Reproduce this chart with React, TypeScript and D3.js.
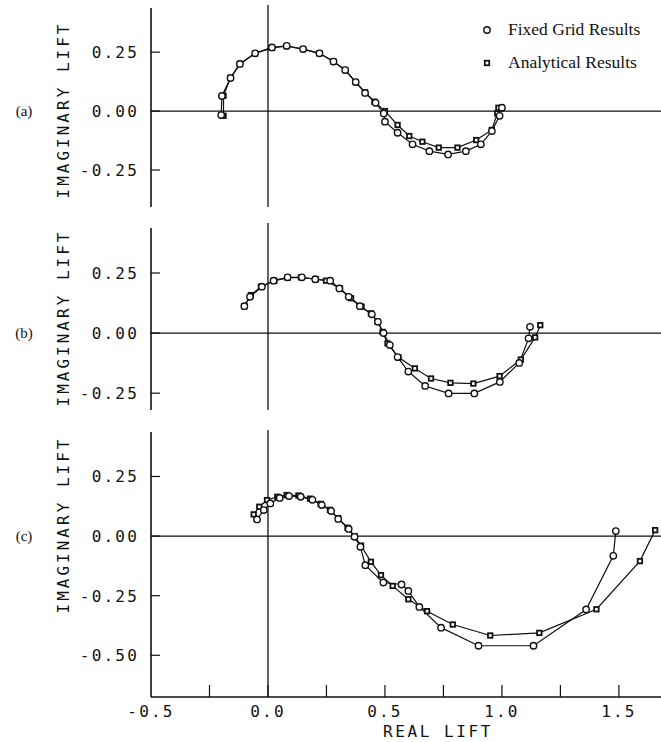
import React from "react";
import * as d3 from "d3";

// Real / imaginary lift pairs
const fixedA: [number, number][] = [
  [-0.2, -0.017], [-0.197, 0.064], [-0.16, 0.14], [-0.12, 0.2], [-0.055, 0.245],
  [0.017, 0.27], [0.08, 0.277], [0.15, 0.263], [0.22, 0.245], [0.28, 0.21],
  [0.33, 0.174], [0.375, 0.123], [0.415, 0.077], [0.46, 0.035], [0.495, -0.01],
  [0.5, -0.045], [0.554, -0.092], [0.618, -0.141], [0.69, -0.17], [0.77, -0.184],
  [0.846, -0.17], [0.91, -0.141], [0.957, -0.085], [0.99, -0.02], [1.0, 0.014],
];
const analyticA: [number, number][] = [
  [-0.19, -0.02], [-0.19, 0.065], [-0.16, 0.142], [-0.12, 0.2], [-0.055, 0.245],
  [0.017, 0.268], [0.08, 0.275], [0.15, 0.263], [0.22, 0.245], [0.28, 0.21],
  [0.33, 0.174], [0.375, 0.123], [0.415, 0.08], [0.455, 0.04], [0.5, 0.0],
  [0.554, -0.059], [0.604, -0.106], [0.66, -0.13], [0.73, -0.155], [0.81, -0.155],
  [0.89, -0.123], [0.957, -0.08], [0.98, -0.01], [0.985, 0.014],
];

const fixedB: [number, number][] = [
  [-0.101, 0.112], [-0.077, 0.151], [-0.026, 0.193], [0.024, 0.218], [0.084, 0.232],
  [0.145, 0.232], [0.202, 0.224], [0.266, 0.218], [0.305, 0.186], [0.345, 0.151],
  [0.393, 0.112], [0.444, 0.078], [0.47, 0.047], [0.494, 0.0], [0.521, -0.05],
  [0.554, -0.1], [0.6, -0.16], [0.672, -0.22], [0.772, -0.251], [0.882, -0.251],
  [0.991, -0.203], [1.074, -0.124], [1.114, -0.022], [1.12, 0.026],
];
const analyticB: [number, number][] = [
  [-0.101, 0.112], [-0.073, 0.158], [-0.03, 0.193], [0.027, 0.218], [0.084, 0.23],
  [0.141, 0.232], [0.205, 0.224], [0.248, 0.218], [0.308, 0.186], [0.355, 0.145],
  [0.4, 0.11], [0.44, 0.082], [0.469, 0.047], [0.49, 0.005], [0.511, -0.043],
  [0.558, -0.101], [0.628, -0.147], [0.697, -0.189], [0.78, -0.207], [0.878, -0.21],
  [0.99, -0.179], [1.081, -0.11], [1.142, -0.018], [1.164, 0.033],
];

const fixedC: [number, number][] = [
  [-0.047, 0.07], [-0.018, 0.109], [0.01, 0.137], [0.05, 0.16], [0.09, 0.168],
  [0.14, 0.165], [0.19, 0.152], [0.23, 0.13], [0.27, 0.105], [0.3, 0.072],
  [0.345, 0.03], [0.37, -0.003], [0.395, -0.045], [0.416, -0.122], [0.493, -0.195],
  [0.571, -0.203], [0.6, -0.23], [0.647, -0.297], [0.74, -0.384], [0.9, -0.46],
  [1.135, -0.46], [1.36, -0.308], [1.476, -0.083], [1.487, 0.021],
];
const analyticC: [number, number][] = [
  [-0.061, 0.091], [-0.037, 0.123], [-0.004, 0.151], [0.04, 0.165], [0.08, 0.172],
  [0.13, 0.17], [0.18, 0.157], [0.225, 0.135], [0.265, 0.11], [0.3, 0.075],
  [0.34, 0.035], [0.37, 0.0], [0.398, -0.04], [0.44, -0.108], [0.483, -0.164],
  [0.533, -0.209], [0.6, -0.265], [0.68, -0.315], [0.79, -0.371], [0.95, -0.417],
  [1.16, -0.406], [1.404, -0.307], [1.59, -0.105], [1.655, 0.025],
];

const panelLetters = ["(a)", "(b)", "(c)"];
const yTicksAB = [-0.25, 0, 0.25];
const yTicksC = [-0.5, -0.25, 0, 0.25];
const xMinorTicks = [-0.25, 0, 0.25, 0.5, 0.75, 1.0, 1.25, 1.5];
const xLabelTicks = [-0.5, 0, 0.5, 1.0, 1.5];
const legendLabels = ["Fixed Grid Results", "Analytical Results"];
const yTitle = "IMAGINARY LIFT";
const xTitle = "REAL LIFT";

const W = 661;
const H = 742;
const LEFT = 151;
const plotterFont = "'DejaVu Sans Mono', monospace";
const serif = "'Liberation Serif', 'DejaVu Serif', serif";

const loc = d3.formatLocale({ decimal: ".", thousands: ",", grouping: [3], currency: ["", ""], minus: "-" });
const fmt2 = loc.format(".2f");
const fmt1 = loc.format(".1f");

const x = d3.scaleLinear().domain([-0.5, 1.68]).range([LEFT, W]);

const panels = [
  { fixed: fixedA, analytic: analyticA, ticks: yTicksAB, domain: [-0.407, 0.45], range: [207, 5], axisTop: 8, titleY: 110 },
  { fixed: fixedB, analytic: analyticB, ticks: yTicksAB, domain: [-0.32, 0.458], range: [410, 223], axisTop: 228, titleY: 318 },
  { fixed: fixedC, analytic: analyticC, ticks: yTicksC, domain: [-0.675, 0.445], range: [697, 430], axisTop: 432, titleY: 525 },
];

function Circle({ cx, cy }: { cx: number; cy: number }) {
  return <circle cx={cx} cy={cy} r={3.2} fill="#fff" stroke="#111" strokeWidth={1.4} />;
}
function Square({ cx, cy }: { cx: number; cy: number }) {
  const s = 4.5;
  return <rect x={cx - s / 2} y={cy - s / 2} width={s} height={s} fill="#fff" stroke="#111" strokeWidth={1.8} />;
}

export default function App() {
  return (
    <div style={{ position: "absolute", left: 0, top: 0, background: "#fff" }}>
      <svg width={W} height={H} style={{ display: "block" }}>
        <rect width={W} height={H} fill="#fff" />
        {panels.map((p, i) => {
          const y = d3.scaleLinear().domain(p.domain).range(p.range);
          const line = d3.line<[number, number]>().x((d) => x(d[0])).y((d) => y(d[1]));
          const bottom = p.range[0];
          return (
            <g key={i}>
              {/* left axis */}
              <line x1={LEFT} x2={LEFT} y1={p.axisTop} y2={bottom} stroke="#111" strokeWidth={1.6} />
              {p.ticks.map((t) => (
                <g key={t}>
                  <line x1={LEFT} x2={LEFT + 9} y1={y(t)} y2={y(t)} stroke="#111" strokeWidth={1.2} />
                  <text x={139} y={y(t) + 6} textAnchor="end" fontFamily={plotterFont} fontSize={16}
                    letterSpacing={2.2} fill="#111">{fmt2(t)}</text>
                </g>
              ))}
              {/* zero lines */}
              <line x1={LEFT} x2={W} y1={y(0)} y2={y(0)} stroke="#111" strokeWidth={1.2} />
              <line x1={x(0)} x2={x(0)} y1={p.range[1]} y2={bottom} stroke="#111" strokeWidth={1.3} />
              {/* titles */}
              <text transform={`translate(69,${p.titleY}) rotate(-90)`} textAnchor="middle"
                fontFamily={plotterFont} fontSize={16} letterSpacing={3} fill="#111">{yTitle}</text>
              <text x={24} y={y(0) + 5} textAnchor="middle" fontFamily={serif} fontSize={15} fill="#111">
                {panelLetters[i]}
              </text>
              {/* series */}
              <path d={line(p.fixed) ?? ""} fill="none" stroke="#111" strokeWidth={1.2} />
              <path d={line(p.analytic) ?? ""} fill="none" stroke="#111" strokeWidth={1.2} />
              {p.analytic.map((d, j) => <Square key={"s" + j} cx={x(d[0])} cy={y(d[1])} />)}
              {p.fixed.map((d, j) => <Circle key={"c" + j} cx={x(d[0])} cy={y(d[1])} />)}
              {i === 2 && (
                <g>
                  <line x1={LEFT} x2={W} y1={bottom} y2={bottom} stroke="#111" strokeWidth={1.5} />
                  {xMinorTicks.map((t) => (
                    <line key={t} x1={x(t)} x2={x(t)} y1={bottom} y2={bottom - 12} stroke="#111" strokeWidth={1.2} />
                  ))}
                  {xLabelTicks.map((t) => (
                    <text key={t} x={x(t)} y={bottom + 20} textAnchor="middle" fontFamily={plotterFont}
                      fontSize={16} letterSpacing={2.2} fill="#111">{fmt1(t)}</text>
                  ))}
                  <text x={438} y={737} textAnchor="middle" fontFamily={plotterFont} fontSize={16}
                    letterSpacing={2.6} fill="#111">{xTitle}</text>
                </g>
              )}
            </g>
          );
        })}
        {/* legend */}
        <Circle cx={487} cy={30} />
        <text x={508} y={35} fontFamily={serif} fontSize={17.5} fill="#111">{legendLabels[0]}</text>
        <Square cx={487} cy={63} />
        <text x={508} y={68} fontFamily={serif} fontSize={17.5} fill="#111">{legendLabels[1]}</text>
      </svg>
    </div>
  );
}
